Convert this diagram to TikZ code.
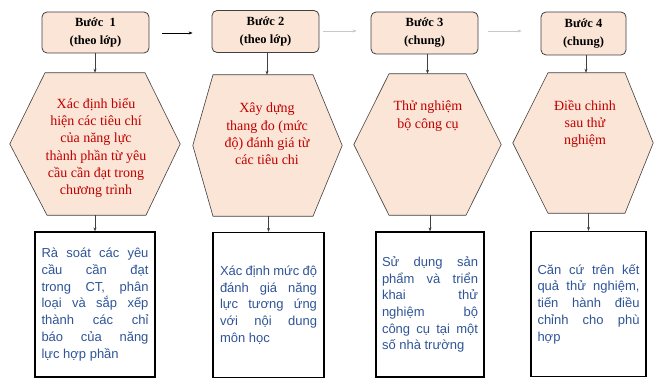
\documentclass[tikz,border=0pt]{standalone}
\usepackage{fontspec}
\setmainfont{Liberation Serif}
\newfontfamily\arialfont{Liberation Sans}
\usetikzlibrary{arrows.meta}
\definecolor{peach}{HTML}{FBE5D6}
\definecolor{redtxt}{HTML}{C00000}
\definecolor{bluetxt}{HTML}{2F5597}
\definecolor{edge}{HTML}{404040}
\definecolor{lightline}{HTML}{C8C8C8}
\tikzset{
  stepbox/.style={draw=edge, line width=0.8pt, fill=peach, rounded corners=5pt, align=center,
    font=\fontsize{12.5}{18}\selectfont\bfseries, inner sep=0pt},
  hexframe/.style={inner sep=0pt},
  hexline/.style={draw=edge, line width=0.6pt, fill=peach},
  hextext/.style={align=center, text=redtxt, font=\fontsize{14}{17.3}\selectfont, inner sep=0pt, anchor=north},
  descbox/.style={draw=black, line width=1.2pt, fill=white, align=justify, text=bluetxt,
    font=\arialfont\fontsize{13}{16.7}\selectfont, inner sep=0pt, minimum height=145pt},
  conn/.style={draw=edge, line width=0.6pt, -{Stealth[length=4pt,width=3pt]}},
  hconn/.style={line width=0.6pt, -{Stealth[length=4pt,width=3pt]}},
}
\begin{document}
\begin{tikzpicture}[x=1pt,y=-1pt]
\useasboundingbox (0,0) rectangle (660,379);
% top step boxes
\node[stepbox, minimum width=107pt, minimum height=41pt] (b1) at (95.5,32.5) {Bước \ 1\\(theo lớp)};
\node[stepbox, minimum width=107pt, minimum height=42pt] (b2) at (265.5,31.5) {Bước 2\\(theo lớp)};
\node[stepbox, minimum width=107pt, minimum height=42pt] (b3) at (424.5,33) {Bước 3\\(chung)};
\node[stepbox, minimum width=85pt, minimum height=43pt] (b4) at (583.5,33.5) {Bước 4\\(chung)};
% horizontal arrows
\draw[hconn, draw=black, shorten <=13pt, shorten >=19pt] (b1.east |- 0,33) -- (b2.west |- 0,33);
\draw[hconn, draw=lightline, shorten <=4pt, shorten >=14pt] (b2.east |- 0,31) -- (b3.west |- 0,31);
\draw[hconn, draw=lightline, shorten <=10pt, shorten >=19pt] (b3.east |- 0,31) -- (b4.west |- 0,31);
% hexagon frames
\node[hexframe, minimum width=170pt, minimum height=142pt] (h1) at (95,144) {};
\node[hexframe, minimum width=149pt, minimum height=141pt] (h2) at (267.5,145.5) {};
\node[hexframe, minimum width=147pt, minimum height=141pt] (h3) at (427.5,144.5) {};
\node[hexframe, minimum width=140pt, minimum height=140pt] (h4) at (583,143) {};
\draw[hexline] ([xshift=-50pt]h1.north) -- ([xshift=50pt]h1.north) -- (h1.east) -- ([xshift=51pt]h1.south) -- ([xshift=-48pt]h1.south) -- (h1.west) -- cycle;
\draw[hexline] ([xshift=-54.5pt]h2.north) -- ([xshift=45.5pt]h2.north) -- (h2.east) -- ([xshift=45.5pt]h2.south) -- ([xshift=-54.5pt]h2.south) -- (h2.west) -- cycle;
\draw[hexline] ([xshift=-38.5pt]h3.north) -- ([xshift=38.5pt]h3.north) -- (h3.east) -- ([xshift=38.5pt]h3.south) -- ([xshift=-38.5pt]h3.south) -- (h3.west) -- cycle;
\draw[hexline] ([xshift=-35pt]h4.north) -- ([xshift=42pt]h4.north) -- (h4.east) -- ([xshift=42pt]h4.south) -- ([xshift=-35pt]h4.south) -- (h4.west) -- cycle;
% hexagon texts
\node[hextext] (t1) at (96,98) {Xác định biểu\\hiện các tiêu chí\\của năng lực\\thành phần từ yêu\\cầu cần đạt trong\\chương trình};
\node[hextext] (t2) at (267,103) {Xây dựng\\thang đo (mức\\độ) đánh giá từ\\các tiêu chi};
\node[hextext] (t3) at (428,101) {Thử nghiệm\\bộ công cụ};
\node[hextext] (t4) at (585,100) {Điều chinh\\sau thử\\nghiệm};
% description boxes
\node[descbox, minimum width=120pt, text width=107pt] (r1) at (95,304.5)
  {Rà soát các yêu\linebreak cầu cần đạt\linebreak trong CT, phân\linebreak loại và sắp xếp\linebreak thành các chỉ\linebreak báo của năng\linebreak lực hợp phần};
\node[descbox, minimum width=111pt, text width=97pt] (r2) at (268.5,305)
  {Xác định mức độ\linebreak đánh giá năng\linebreak lực tương ứng\linebreak với nội dung\linebreak môn học};
\node[descbox, minimum width=108pt, text width=96pt] (r3) at (430,304.5)
  {Sử dụng sản\linebreak phẩm và triển\linebreak khai thử\linebreak nghiệm bộ\linebreak công cụ tại một\linebreak số nhà trường};
\node[descbox, minimum width=115pt, text width=102pt] (r4) at (588.5,304)
  {Căn cứ trên kết\linebreak quả thử nghiệm,\linebreak tiến hành điều\linebreak chỉnh cho phù\linebreak hợp};
% vertical connectors
\draw[conn] (b1.south -| h1.north) -- (h1.north);
\draw[conn] (b2.south -| 267,0) -- (h2.north -| 267,0);
\draw[conn] (b3.south -| h3.north) -- (h3.north);
\draw[conn] (b4.south -| 586,0) -- (h4.north -| 586,0);
\draw[conn] (h1.south -| r1.north) -- (r1.north);
\draw[conn] (h2.south -| r2.north) -- (r2.north);
\draw[conn] (h3.south -| r3.north) -- (r3.north);
\draw[conn] (h4.south -| r4.north) -- (r4.north);
\end{tikzpicture}
\end{document}
